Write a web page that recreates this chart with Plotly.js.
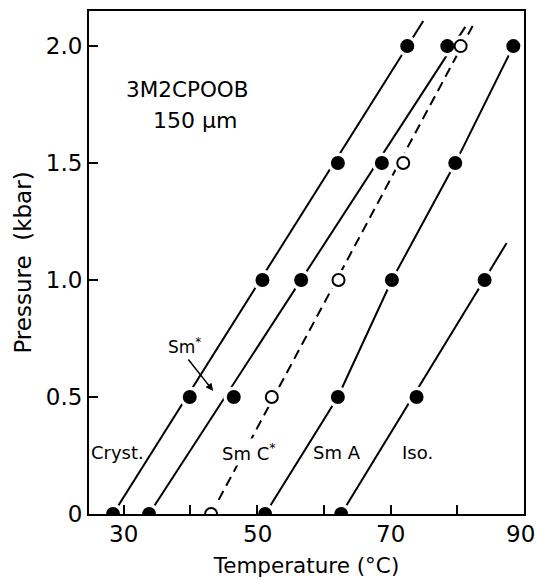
<!DOCTYPE html>
<html>
<head>
<meta charset="utf-8">
<script src="https://cdn.plot.ly/plotly-3.0.1.min.js"></script>
<style>html,body{margin:0;padding:0;background:#fff;}</style>
</head>
<body>
<div id="chart" style="width:536px;height:580px;"></div>
<pre id="dbg" style="position:absolute;left:2px;top:552px;font-size:9px;color:#fff;background:#fff;margin:0;max-width:70px;white-space:pre-wrap"></pre>
<script>
// ---- data (Temperature in °C, Pressure in kbar) ----
var pressures = [0, 0.5, 1.0, 1.5, 2.0];
var isoPressures = [0, 0.5, 1.0];

// transition temperatures (filled circles unless noted)
var crystSmStarT = [28.4, 39.9, 50.8, 62.1, 72.5];   // Cryst. -> Sm*
var smStarSmCT   = [33.8, 46.5, 56.6, 68.7, 78.5];   // Sm* -> Sm C*
var smCSmAT      = [43.1, 52.2, 62.2, 71.9, 80.5];   // open circles (dashed boundary)
var smAT         = [51.2, 62.1, 70.2, 79.7, 88.4];   // Sm C* -> Sm A
var isoT         = [62.6, 73.9, 84.1];               // Sm A -> Iso.

// drawn boundary lines (end points)
var line1T = [28.4, 74.9],  line1P = [0, 2.107];
var line2T = [33.8, 81.2],  line2P = [0, 2.082];
var line3T = [43.1, 82.3],  line3P = [0, 2.086];
var line4T = smAT,          line4P = pressures;
var line5T = [62.6, 87.4],  line5P = [0, 1.158];

var xTickVals = [30, 50, 70, 90];
var xTickText = ['30', '50', '70', '90'];
var xMinorTickVals = [30, 40, 50, 60, 70, 80, 90];
var yTickVals = [0, 0.5, 1.0, 1.5, 2.0];
var yTickText = ['0', '0.5', '1.0', '1.5', '2.0'];

var FONT = 'DejaVu Sans, sans-serif';
var K = '#000';

function lineTrace(x, y, dash) {
  return {x: x, y: y, mode: 'lines', type: 'scatter', hoverinfo: 'skip',
          line: {color: K, width: 2, dash: dash || 'solid'}};
}

var allT = [].concat(crystSmStarT, smStarSmCT, smCSmAT, smAT, isoT);
var allP = [].concat(pressures, pressures, pressures, pressures, isoPressures);

var traces = [
  lineTrace(line1T, line1P),
  lineTrace(line2T, line2P),
  lineTrace(line3T, line3P, '10px,6px'),
  lineTrace(line4T, line4P),
  lineTrace(line5T, line5P),
  // white halos to break lines around points
  {x: allT, y: allP, mode: 'markers', type: 'scatter', hoverinfo: 'skip',
   marker: {color: '#fff', size: 21, line: {width: 0}}},
  {x: [].concat(crystSmStarT, smStarSmCT, smAT, isoT),
   y: [].concat(pressures, pressures, pressures, isoPressures),
   mode: 'markers', type: 'scatter',
   marker: {color: K, size: 14, line: {width: 0}}},
  {x: smCSmAT, y: pressures, mode: 'markers', type: 'scatter',
   marker: {color: '#fff', size: 12, line: {color: K, width: 2}}}
];

function label(x, y, text, size, bg) {
  return {x: x, y: y, xref: 'x', yref: 'y', text: text, showarrow: false,
          font: {family: FONT, size: size, color: K},
          bgcolor: bg || 'rgba(0,0,0,0)', borderpad: 1,
          xanchor: 'center', yanchor: 'middle'};
}

// x tick labels drawn as annotations at the tick positions
var xTickLabels = xTickVals.map(function (v, i) {
  return {x: v, y: -0.0398, xref: 'x', yref: 'paper', text: xTickText[i], showarrow: false,
          font: {family: FONT, size: 23, color: K}, borderpad: 0,
          xshift: (i === xTickVals.length - 1) ? -4 : 0,
          xanchor: 'center', yanchor: 'middle'};
});

var layout = {
  width: 536, height: 580,
  margin: {l: 89, r: 12, t: 11, b: 66},
  paper_bgcolor: '#fff', plot_bgcolor: '#fff',
  showlegend: false,
  font: {family: FONT, color: K},
  xaxis: {
    range: [24.8, 90], tickmode: 'array', tickvals: xMinorTickVals,
    showticklabels: false,
    ticks: 'inside', ticklen: 9, tickwidth: 2, tickcolor: K,
    showline: true, linewidth: 2, linecolor: K, mirror: true,
    showgrid: false, zeroline: false,
    title: {text: 'Temperature (°C)', font: {family: FONT, size: 21.5, color: K}, standoff: 43}
  },
  yaxis: {
    range: [0, 2.15], tickmode: 'array', tickvals: yTickVals, ticktext: yTickText,
    tickangle: 0, ticklabeloverflow: 'allow',
    ticks: 'inside', ticklen: 9, tickwidth: 2, tickcolor: K,
    showline: true, linewidth: 2, linecolor: K, mirror: true,
    showgrid: false, zeroline: false,
    tickfont: {family: FONT, size: 23, color: K},
    title: {text: 'Pressure\u00a0\u00a0(kbar)', font: {family: FONT, size: 23, color: K}, standoff: 8}
  },
  annotations: [
    label(39.5, 1.814, '3M2CPOOB', 21.5),
    label(40.7, 1.68, '150 μm', 22),
    label(39.06, 0.718, 'Sm<sup>*</sup>', 17),
    {x: 43.41, y: 0.526, xref: 'x', yref: 'y', ax: -26, ay: -33, text: '',
     showarrow: true, arrowhead: 2, arrowsize: 1, arrowwidth: 1.5, arrowcolor: K},
    label(29.0, 0.265, 'Cryst.', 18),
    label(48.8, 0.265, 'Sm C<sup>*</sup>', 18, '#fff'),
    label(62.0, 0.265, 'Sm A', 18),
    label(74.0, 0.265, 'Iso.', 18)
  ].concat(xTickLabels)
};

Plotly.newPlot('chart', traces, layout, {displayModeBar: false, staticPlot: true}).then(function () {
  // force a layout pass over all texts so every label is painted
  var n = 0;
  document.querySelectorAll('#chart svg text').forEach(function (t) {
    var bb = t.getBBox();
    var r = t.getBoundingClientRect();
    getComputedStyle(t).display;
    n += bb.width + r.width;
  });
  document.getElementById('dbg').textContent = '.' + Math.round(n) % 10;
});
</script>
</body>
</html>
